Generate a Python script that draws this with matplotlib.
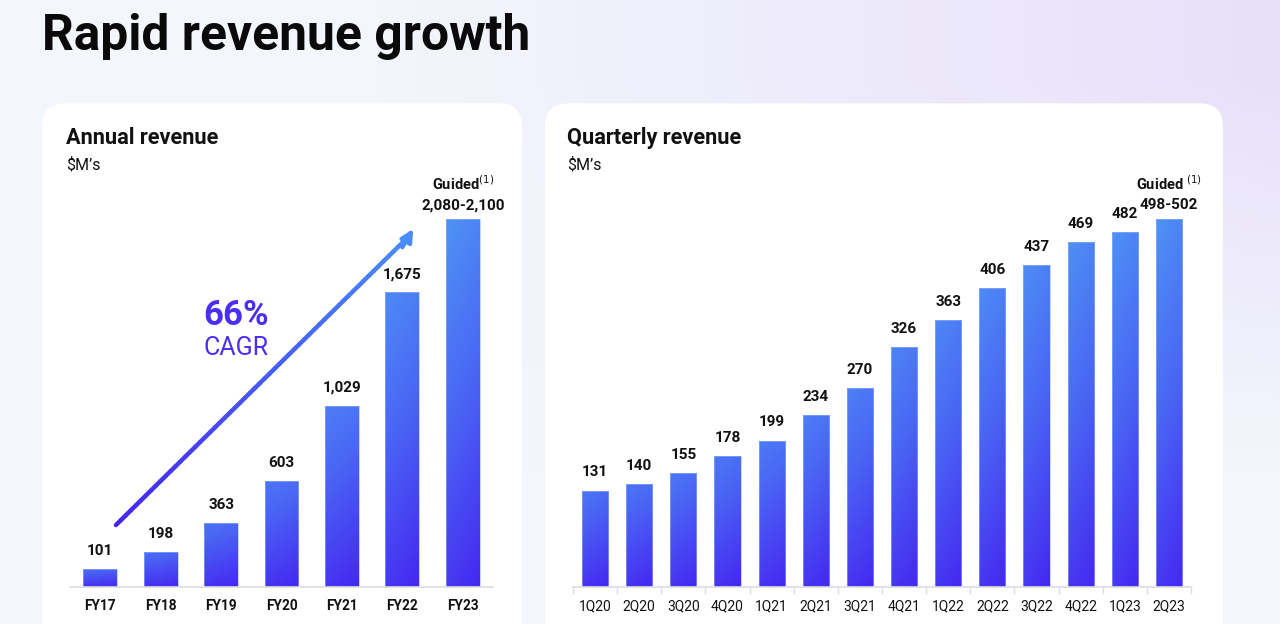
import matplotlib
matplotlib.use("Agg")
import matplotlib.pyplot as plt
import numpy as np
from matplotlib.colors import LinearSegmentedColormap
from matplotlib.patches import FancyBboxPatch
from matplotlib.collections import LineCollection

plt.rcParams["font.family"] = ["Roboto", "DejaVu Sans"]

# data
annual_labels = ["FY17", "FY18", "FY19", "FY20", "FY21", "FY22", "FY23"]
annual_values = [101, 198, 363, 603, 1029, 1675, 2090]
annual_text = ["101", "198", "363", "603", "1,029", "1,675", "2,080-2,100"]

quarter_labels = ["1Q20", "2Q20", "3Q20", "4Q20", "1Q21", "2Q21", "3Q21",
                  "4Q21", "1Q22", "2Q22", "3Q22", "4Q22", "1Q23", "2Q23"]
quarter_values = [131, 140, 155, 178, 199, 234, 270, 326, 363, 406, 437, 469, 482, 500]
quarter_text = ["131", "140", "155", "178", "199", "234", "270", "326", "363",
                "406", "437", "469", "482", "498-502"]

W, H = 1280, 624
fig = plt.figure(figsize=(W / 100, H / 100), dpi=100)

bar_cmap = LinearSegmentedColormap.from_list("bar", ["#4f95f6", "#4a66f4", "#4528f1"])


def px_axes(x0, y0, x1, y1, **kw):
    # pixel box (top-left origin) -> figure axes
    return fig.add_axes([x0 / W, 1 - y1 / H, (x1 - x0) / W, (y1 - y0) / H], **kw)


# background gradient
bg = px_axes(0, 0, W, H)
bg.set_axis_off()
xx, yy = np.meshgrid(np.linspace(0, 1, 200), np.linspace(0, 1, 100))
c_base = np.array([0xf3, 0xf6, 0xfc]) / 255
c_lav = np.array([0xe6, 0xdc, 0xfa]) / 255
w = np.clip(xx * 1.2 - 0.35, 0, 1) * np.clip(yy * 1.6 - 0.4, 0, 1)
img = c_base[None, None, :] * (1 - w[..., None]) + c_lav[None, None, :] * w[..., None]
bg.imshow(img, extent=(0, 1, 0, 1), origin="lower", aspect="auto")
bg.set_xlim(0, 1)
bg.set_ylim(0, 1)

# white cards
for (x0, x1) in [(42, 522), (545, 1223)]:
    card = FancyBboxPatch((x0 / W, -0.1), (x1 - x0) / W, (H + 62 - 103) / H,
                          boxstyle="round,pad=0,rounding_size=0.018",
                          transform=bg.transAxes, facecolor="white",
                          edgecolor="none", mutation_aspect=W / H)
    bg.add_patch(card)

fig.text(42 / W, 1 - 37 / H, "Rapid revenue growth", fontsize=35.8, fontweight="bold",
         va="center", ha="left", color="#0a0a0a")
fig.text(66 / W, 1 - 138 / H, "Annual revenue", fontsize=15.7, fontweight="bold",
         va="center", color="#111111")
fig.text(66 / W, 1 - 165 / H, "$M\u2019s", fontsize=11.5, va="center", color="#111111")
fig.text(567 / W, 1 - 138 / H, "Quarterly revenue", fontsize=15.7, fontweight="bold",
         va="center", color="#111111")
fig.text(567 / W, 1 - 165 / H, "$M\u2019s", fontsize=11.5, va="center", color="#111111")


def gradient_bars(ax, values, width):
    bars = ax.bar(range(len(values)), values, width=width, color="none",
                  edgecolor="#9ab6f8", linewidth=0.4, zorder=2)
    ymax = ax.get_ylim()[1]
    for b in bars:
        x0 = b.get_x()
        h = b.get_height()
        top = 0.45 * (1 - h / ymax)
        vert = np.linspace(0, 1, 128)[:, None]
        horiz = np.linspace(0, 1, 16)[None, :]
        g = top + (1 - top) * (vert * 0.85 + horiz * 0.15)
        im = ax.imshow(g, cmap=bar_cmap, vmin=0, vmax=1, aspect="auto",
                       extent=(x0, x0 + b.get_width(), 0, h), origin="upper",
                       zorder=1, interpolation="bilinear")
        im.set_clip_path(b)
    return bars


def style_axis(ax, labels, bold, ticks):
    for s in ["top", "right", "left"]:
        ax.spines[s].set_visible(False)
    ax.spines["bottom"].set_color("#dcdde3")
    ax.spines["bottom"].set_linewidth(1.2)
    ax.set_yticks([])
    ax.set_xticks(range(len(labels)))
    ax.set_xticklabels(labels, fontsize=9.8 if bold else 10,
                       fontweight="bold" if bold else "normal", color="#111111")
    ax.tick_params(axis="x", length=0, pad=9)
    if ticks:
        ax.set_xticks(np.arange(-0.5, len(labels), 1.0), minor=True)
        ax.tick_params(axis="x", which="minor", length=5, color="#dcdde3", width=1)
    ax.set_facecolor("none")


def value_labels(ax, values, texts, guided):
    n = len(values)
    for i, (v, t) in enumerate(zip(values, texts)):
        off = 5 if i == n - 1 else 8
        ax.annotate(t, (i, v), xytext=(0, off), textcoords="offset points", ha="center",
                    va="bottom", fontsize=11, fontweight="bold", color="#111111")
    ax.annotate(guided, (n - 1, values[-1]), xytext=(0, 19),
                textcoords="offset points", ha="center", va="bottom", fontsize=10.5,
                fontweight="bold", color="#111111")


# annual chart
ax1 = px_axes(70, 190, 493, 587)
ax1.set_xlim(-0.5, 6.5)
ax1.set_ylim(0, 397 / 0.176)
gradient_bars(ax1, annual_values, 0.56)
style_axis(ax1, annual_labels, True, False)
value_labels(ax1, annual_values, annual_text, "Guided$^{(1)}$")

# CAGR arrow with gradient
n = 60
xs = np.linspace(0.26, 5.1, n)
ys = np.linspace(352, 1990, n)
segs = np.stack([np.column_stack([xs[:-1], ys[:-1]]), np.column_stack([xs[1:], ys[1:]])], axis=1)
arrow_cmap = LinearSegmentedColormap.from_list("arr", ["#4426f0", "#4a8cf6"])
lc = LineCollection(segs, colors=arrow_cmap(np.linspace(0, 1, n - 1)), linewidth=3.2,
                    capstyle="round", zorder=3)
ax1.add_collection(lc)
ax1.annotate("", xy=(5.18, 2035), xytext=(5.0, 1930),
             arrowprops=dict(arrowstyle="-|>", color="#4a8cf6", lw=3,
                             mutation_scale=18, shrinkA=0, shrinkB=0), zorder=4)
ax1.text(2.25, 1545, "66%", fontsize=25, fontweight="bold", color="#4a2ff0",
         ha="center", va="center")
ax1.text(2.25, 1360, "CAGR", fontsize=18, color="#4a2ff0", ha="center", va="center")

# quarterly chart
ax2 = px_axes(573, 190, 1191, 587)
ax2.set_xlim(-0.5, 13.5)
ax2.set_ylim(0, 397 / 0.736)
gradient_bars(ax2, quarter_values, 0.59)
style_axis(ax2, quarter_labels, False, True)
value_labels(ax2, quarter_values, quarter_text, "Guided $^{(1)}$")

fig.savefig("out.png", dpi=100)
